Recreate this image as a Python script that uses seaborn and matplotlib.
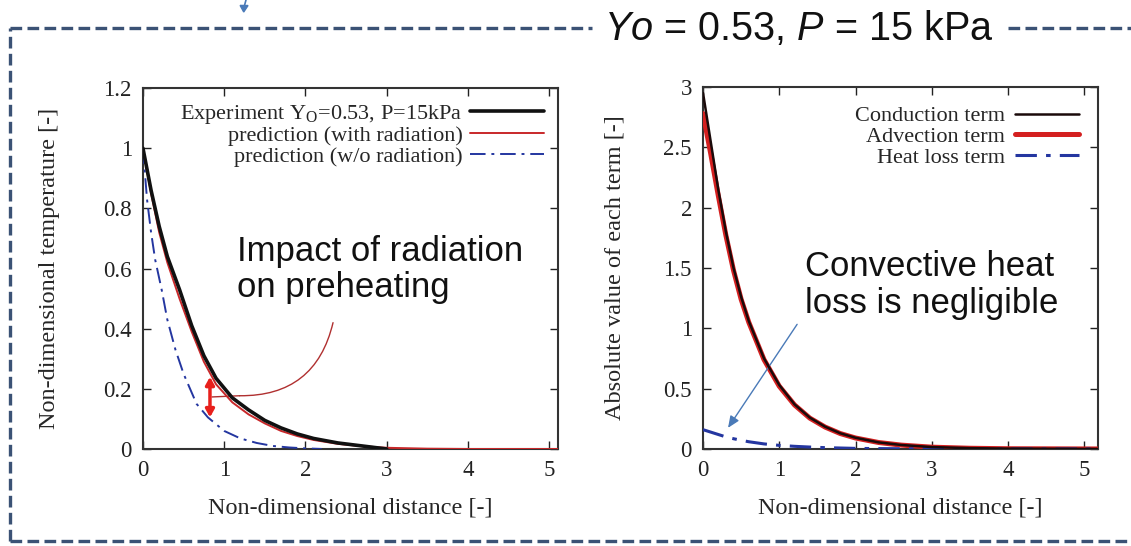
import matplotlib
matplotlib.use("Agg")
from matplotlib import pyplot as plt
from matplotlib.lines import Line2D
import seaborn as sns

# left panel: non-dimensional temperature profiles
EXP_X = [0, 0.1, 0.2, 0.3, 0.45, 0.6, 0.75, 0.9, 1.1, 1.3, 1.5, 1.7, 1.9, 2.1, 2.4, 2.7, 3.0]
EXP_T = [1.0, 0.86, 0.74, 0.64, 0.53, 0.41, 0.31, 0.235, 0.17, 0.13, 0.095, 0.07, 0.05, 0.035, 0.02, 0.01, 0.0]

RAD_X = [0, 0.1, 0.2, 0.3, 0.45, 0.6, 0.75, 0.9, 1.1, 1.3, 1.5, 1.7, 1.9, 2.1, 2.4, 2.7, 3.0, 3.5, 4.0, 5.11]
RAD_T = [1.0, 0.85, 0.72, 0.62, 0.50, 0.39, 0.29, 0.215, 0.155, 0.115, 0.085, 0.06, 0.043, 0.03, 0.017, 0.009, 0.004, 0.001, 0.0, 0.0]

NORAD_X = [0, 0.05, 0.1, 0.15, 0.23, 0.3, 0.4, 0.5, 0.66, 0.8, 1.0, 1.2, 1.4, 1.6, 1.8, 2.0, 2.2]
NORAD_T = [1.0, 0.83, 0.72, 0.63, 0.53, 0.43, 0.33, 0.25, 0.15, 0.105, 0.06, 0.035, 0.02, 0.01, 0.005, 0.002, 0.0]

# right panel: absolute value of each term
TERM_X = [0, 0.1, 0.2, 0.3, 0.4, 0.5, 0.6, 0.8, 1.0, 1.2, 1.4, 1.6, 1.8, 2.0, 2.3, 2.6, 3.0, 3.5, 4.0, 5.18]
COND = [2.95, 2.55, 2.15, 1.80, 1.50, 1.26, 1.06, 0.75, 0.53, 0.37, 0.26, 0.185, 0.13, 0.093, 0.055, 0.033, 0.016, 0.007, 0.003, 0.0]
ADV = [2.78, 2.45, 2.10, 1.77, 1.48, 1.24, 1.05, 0.74, 0.52, 0.365, 0.256, 0.182, 0.128, 0.091, 0.054, 0.032, 0.015, 0.006, 0.002, 0.0]
HEAT = [0.16, 0.14, 0.12, 0.10, 0.085, 0.072, 0.06, 0.042, 0.03, 0.022, 0.016, 0.011, 0.008, 0.005, 0.003, 0.002, 0.0, 0.0, 0.0, 0.0]

LEFT_YTICKS = [0, 0.2, 0.4, 0.6, 0.8, 1, 1.2]
RIGHT_YTICKS = [0, 0.5, 1, 1.5, 2, 2.5, 3]
XTICKS = [0, 1, 2, 3, 4, 5]

sns.set_style("ticks")
plt.rcParams["font.family"] = ["Liberation Serif"]
plt.rcParams["mathtext.fontset"] = "custom"
plt.rcParams["mathtext.rm"] = "Liberation Serif"
plt.rcParams["mathtext.it"] = "Liberation Sans:italic"

FRAME = "#3b5275"
BLACK = "#111111"
RED = "#c8282a"
BLUE = "#2436a0"


def style_axes(ax, xmax, ymax, yticks, ylabel, ypad):
    ax.set_xlim(0, xmax)
    ax.set_ylim(0, ymax)
    ax.set_xticks(XTICKS)
    ax.set_yticks(yticks)
    ax.set_yticklabels([f"{t:g}" for t in yticks])
    ax.tick_params(direction="in", length=6, width=1, labelsize=16.5, colors="#222222",
                   top=True, right=True, pad=8)
    for sp in ax.spines.values():
        sp.set_visible(True)
        sp.set_linewidth(1.5)
        sp.set_color("#333333")
    ax.set_xlabel("Non-dimensional distance [-]", fontsize=17.5, labelpad=12)
    ax.set_ylabel(ylabel, fontsize=17.5, labelpad=ypad)


fig = plt.figure(figsize=(11.31, 5.46), dpi=100)
ax1 = fig.add_axes([0.1264, 0.1777, 0.367, 0.661])
ax2 = fig.add_axes([0.6216, 0.1777, 0.3492, 0.663])

# left panel
sns.lineplot(x=RAD_X, y=RAD_T, ax=ax1, color=RED, lw=1.4, errorbar=None,
             label="prediction (with radiation)", zorder=3)
sns.lineplot(x=EXP_X, y=EXP_T, ax=ax1, color=BLACK, lw=2.6, errorbar=None,
             label="Experiment Y$_{\\mathrm{O}}$=0.53, P=15kPa", zorder=4)
sns.lineplot(x=NORAD_X, y=NORAD_T, ax=ax1, color=BLUE, lw=1.4, errorbar=None,
             linestyle=(0, (8, 3, 1.5, 3)), label="prediction (w/o radiation)", zorder=3)
style_axes(ax1, 5.11, 1.2, LEFT_YTICKS, "Non-dimensional temperature [-]", 31)
h, l = ax1.get_legend_handles_labels()
order = [1, 0, 2]
ax1.legend([h[i] for i in order], [l[i] for i in order], loc="upper right", frameon=False,
           markerfirst=False, fontsize=16, handlelength=3.3, handletextpad=0.35,
           labelspacing=0.0, borderaxespad=0.25)

ax1.text(1.16, 0.713, "Impact of radiation\non preheating", family="Liberation Sans",
         fontsize=25, va="top", ha="left", color="#111111", linespacing=1.15)
ax1.annotate("", xy=(1.19, 0.177), xytext=(2.34, 0.42),
             arrowprops=dict(arrowstyle="-", connectionstyle="arc3,rad=-0.4",
                             color="#b03030", lw=1.0, shrinkA=0, shrinkB=0))
ax1.plot([0.85, 1.19], [0.173, 0.177], color="#b03030", lw=1.0)
ax1.annotate("", xy=(0.825, 0.105), xytext=(0.825, 0.24),
             arrowprops=dict(arrowstyle="<|-|>,head_length=0.45,head_width=0.25",
                             color="#e8201c", lw=2.5, shrinkA=0, shrinkB=0))

# right panel
sns.lineplot(x=TERM_X, y=ADV, ax=ax2, color="#d42020", lw=3.6, errorbar=None,
             label="Advection term", zorder=3)
sns.lineplot(x=TERM_X, y=COND, ax=ax2, color="#1a0a0a", lw=1.8, errorbar=None,
             label="Conduction term", zorder=4)
sns.lineplot(x=TERM_X, y=HEAT, ax=ax2, color=BLUE, lw=2.2, errorbar=None,
             linestyle=(0, (7, 3, 1.5, 3)), label="Heat loss term", zorder=3)
style_axes(ax2, 5.18, 3, RIGHT_YTICKS, "Absolute value of each term [-]", 27)
h, l = ax2.get_legend_handles_labels()
ax2.legend([h[1], h[0], h[2]], [l[1], l[0], l[2]], loc="upper right", frameon=False,
           markerfirst=False, fontsize=16, handlelength=2.9, handletextpad=0.45,
           labelspacing=0.0, borderaxespad=0.45)

ax2.text(1.34, 1.65, "Convective heat\nloss is negligible", family="Liberation Sans",
         fontsize=25, va="top", ha="left", color="#111111", linespacing=1.15)
ax2.annotate("", xy=(0.328, 0.175), xytext=(1.234, 1.033),
             arrowprops=dict(arrowstyle="-|>,head_length=0.7,head_width=0.3",
                             color="#4a7ab8", lw=1.0, shrinkA=0, shrinkB=0))

# dashed frame around both panels
dash = dict(color=FRAME, lw=2.4, linestyle=(0, (3.5, 1.6)), transform=fig.transFigure)
fig.add_artist(Line2D([0.0088, 0.523], [0.9487, 0.9487], **dash))
fig.add_artist(Line2D([0.891, 1.0], [0.9487, 0.9487], **dash))
fig.add_artist(Line2D([0.0088, 0.0088], [0.009, 0.9487], **dash))
fig.add_artist(Line2D([0.0088, 1.0], [0.009, 0.009], **dash))
fig.text(0.7065, 0.948, "$\\mathit{Yo}$ = 0.53, $\\mathit{P}$ = 15 kPa", family="Liberation Sans",
         fontsize=28.5, ha="center", va="center", color="#111111")
fig.add_artist(plt.Line2D([0.2175, 0.2155], [1.0, 0.985], color="#4a7ab8", lw=1.2,
                          transform=fig.transFigure))
fig.patches.append(matplotlib.patches.FancyArrow(0.2158, 0.99, -0.0003, -0.012, width=0.0,
                   head_width=0.007, head_length=0.012, color="#4a7ab8",
                   transform=fig.transFigure, figure=fig, length_includes_head=True))

fig.savefig("out.png", dpi=100, facecolor="white")
